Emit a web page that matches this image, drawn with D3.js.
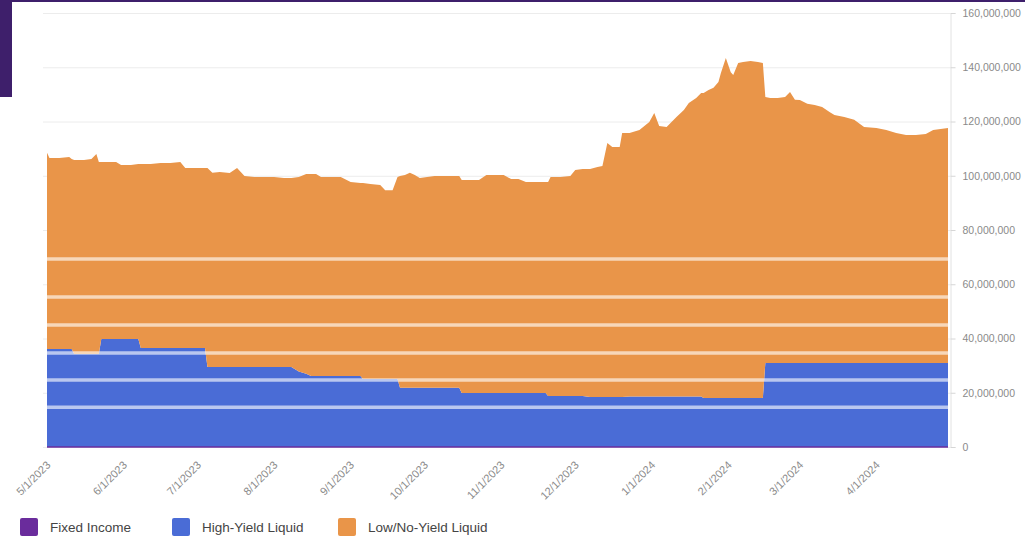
<!DOCTYPE html>
<html>
<head>
<meta charset="utf-8">
<script src="https://cdn.jsdelivr.net/npm/d3@7"></script>
<style>
  html, body { margin: 0; padding: 0; background: #fff; }
  svg { display: block; font-family: Arial, "Liberation Sans", sans-serif; }
</style>
</head>
<body>
<svg id="chart" width="1025" height="540"></svg>
<script>
// Daily observation dates (irregular sampling)
const dates = [
  "2023-05-01","2023-05-02","2023-05-06","2023-05-10","2023-05-11","2023-05-12","2023-05-16","2023-05-19","2023-05-21","2023-05-22",
  "2023-05-23","2023-05-27","2023-05-29","2023-05-31","2023-06-04","2023-06-07","2023-06-08","2023-06-12","2023-06-16","2023-06-20",
  "2023-06-24","2023-06-26","2023-06-30","2023-07-04","2023-07-05","2023-07-07","2023-07-10","2023-07-14","2023-07-17","2023-07-20",
  "2023-07-24","2023-07-29","2023-08-01","2023-08-05","2023-08-08","2023-08-11","2023-08-14","2023-08-16","2023-08-18","2023-08-20",
  "2023-08-24","2023-08-28","2023-09-01","2023-09-05","2023-09-06","2023-09-09","2023-09-13","2023-09-15","2023-09-18","2023-09-20",
  "2023-09-21","2023-09-23","2023-09-25","2023-09-27","2023-09-29","2023-10-02","2023-10-05","2023-10-09","2023-10-13","2023-10-15",
  "2023-10-16","2023-10-20","2023-10-23","2023-10-26","2023-10-30","2023-11-02","2023-11-05","2023-11-08","2023-11-11","2023-11-15",
  "2023-11-19","2023-11-20","2023-11-21","2023-11-25","2023-11-29","2023-12-01","2023-12-04","2023-12-07","2023-12-10","2023-12-12",
  "2023-12-14","2023-12-16","2023-12-19","2023-12-20","2023-12-23","2023-12-27","2023-12-31","2024-01-02","2024-01-04","2024-01-07",
  "2024-01-11","2024-01-14","2024-01-16","2024-01-19","2024-01-21","2024-01-22","2024-01-24","2024-01-26","2024-01-28","2024-01-29",
  "2024-01-31","2024-02-02","2024-02-03","2024-02-05","2024-02-07","2024-02-10","2024-02-13","2024-02-15","2024-02-16","2024-02-18",
  "2024-02-21","2024-02-24","2024-02-26","2024-02-28","2024-03-01","2024-03-04","2024-03-07","2024-03-10","2024-03-13","2024-03-15",
  "2024-03-19","2024-03-23","2024-03-27","2024-04-01","2024-04-05","2024-04-09","2024-04-13","2024-04-17","2024-04-21","2024-04-24",
  "2024-04-27","2024-04-30"
];

// Balances in millions of dollars
const fixedIncome = [
  0,0,0,0,0,0,0,0,0,0, 0,0,0,0,0,0,0,0,0,0, 0,0,0,0,0,0,0,0,0,0,
  0,0,0,0,0,0,0,0,0,0, 0,0,0,0,0,0,0,0,0,0, 0,0,0,0,0,0,0,0,0,0,
  0,0,0,0,0,0,0,0,0,0, 0,0,0,0,0,0,0,0,0,0, 0,0,0,0,0,0,0,0,0,0,
  0,0,0,0,0,0,0,0,0,0, 0,0,0,0,0,0,0,0,0,0, 0,0,0,0,0,0,0,0,0,0,
  0,0,0,0,0,0,0,0,0,0, 0,0
];

const highYieldLiquid = [
  36.1,36.1,36.1,36.1,36.1,34.3,34.3,34.3,34.3,34.3,
  39.8,39.8,39.8,39.8,39.8,39.8,36.5,36.5,36.5,36.5,
  36.5,36.5,36.5,36.5,29.5,29.5,29.5,29.5,29.5,29.5,
  29.5,29.5,29.5,29.5,29.5,27.8,27.0,26.2,26.2,26.2,
  26.2,26.2,26.2,26.2,25.1,25.1,25.1,25.1,25.1,25.1,
  21.8,21.8,21.8,21.8,21.8,21.8,21.8,21.8,21.8,21.8,
  19.9,19.9,19.9,19.9,19.9,19.9,19.9,19.9,19.9,19.9,
  19.9,18.8,18.8,18.8,18.8,18.8,18.8,18.4,18.4,18.4,
  18.4,18.4,18.4,18.4,18.6,18.6,18.6,18.6,18.6,18.6,
  18.6,18.6,18.6,18.6,18.6,18.1,18.1,18.1,18.1,18.1,
  18.1,18.1,18.1,18.1,18.1,18.1,18.1,18.1,31.0,31.0,
  31.0,31.0,31.0,31.0,31.0,31.0,31.0,31.0,31.0,31.0,
  31.0,31.0,31.0,31.0,31.0,31.0,31.0,31.0,31.0,31.0,
  31.0,31.0
];

const lowNoYieldLiquid = [
  72.4,70.4,70.4,70.8,70.1,71.5,71.5,71.9,73.7,70.8,
  65.3,65.3,65.3,64.2,64.2,64.5,67.8,67.8,68.2,68.2,
  68.6,66.4,66.4,66.4,73.4,71.6,71.9,71.5,73.4,70.4,
  70.0,70.0,70.0,69.7,69.7,71.7,73.6,74.4,74.4,73.3,
  73.3,73.3,71.5,71.1,72.2,71.9,71.5,69.6,69.6,74.4,
  78.1,78.5,79.3,78.5,77.4,77.7,78.1,78.1,78.1,78.1,
  78.5,78.5,78.5,80.4,80.4,80.4,78.9,78.9,77.8,77.8,
  77.8,78.9,80.7,80.7,81.1,83.3,83.7,84.1,84.8,85.2,
  93.7,92.2,92.2,97.4,97.2,98.3,101.2,104.5,99.7,99.4,
  103.1,105.6,108.2,110.1,111.9,112.4,113.5,114.3,116.5,119.8,
  125.3,120.1,119.0,123.5,123.8,124.2,123.8,123.5,98.0,97.7,
  97.7,98.0,99.9,97.0,96.9,95.5,95.1,94.3,92.5,91.4,
  90.7,89.6,87.0,86.6,85.9,84.8,84.0,84.0,84.4,85.9,
  86.2,86.6
];

const seriesNames = ["Fixed Income", "High-Yield Liquid", "Low/No-Yield Liquid"];
const seriesKeys = ["fixed", "high", "low"];
const seriesColors = ["#6a2c9c", "#4a6cd6", "#e99549"];

const xTickLabels = ["5/1/2023","6/1/2023","7/1/2023","8/1/2023","9/1/2023","10/1/2023",
                     "11/1/2023","12/1/2023","1/1/2024","2/1/2024","3/1/2024","4/1/2024"];
const yTickValues = [0, 20e6, 40e6, 60e6, 80e6, 100e6, 120e6, 140e6, 160e6];

// Light reference bands across the stacked areas (millions)
const bandLevels = [69.3, 55.3, 45.0, 34.7, 24.7, 14.7];

const parseDate = d3.timeParse("%Y-%m-%d");
const parseTick = d3.timeParse("%-m/%-d/%Y");

const rows = dates.map((d, i) => ({
  date: parseDate(d),
  fixed: fixedIncome[i] * 1e6,
  high: highYieldLiquid[i] * 1e6,
  low: lowNoYieldLiquid[i] * 1e6
}));

const svg = d3.select("#chart");
const W = 1025, H = 540;
const plot = { left: 47, right: 948, top: 13, bottom: 447 };

// Frame accents
svg.append("rect").attr("x", 0).attr("y", 0).attr("width", W).attr("height", 2).attr("fill", "#3e1f6b");
svg.append("rect").attr("x", 0).attr("y", 0).attr("width", 12).attr("height", 97).attr("fill", "#3e1f6b");

const x = d3.scaleTime()
  .domain([rows[0].date, rows[rows.length - 1].date])
  .range([plot.left, plot.right]);

const y = d3.scaleLinear()
  .domain([0, 160e6])
  .range([plot.bottom, plot.top]);

// Gridlines
svg.append("g")
  .selectAll("line")
  .data(yTickValues)
  .join("line")
  .attr("x1", 43).attr("x2", 950)
  .attr("y1", d => y(d) + 0.5).attr("y2", d => y(d) + 0.5)
  .attr("stroke", "#ececec").attr("stroke-width", 1);

// Right value axis
const yAxis = svg.append("g")
  .attr("transform", `translate(950.5,0)`)
  .call(d3.axisRight(y).tickValues(yTickValues).tickFormat(d3.format(",")).tickSize(5).tickPadding(7));
yAxis.select(".domain").attr("stroke", "#e2e2e2");
yAxis.selectAll(".tick line").attr("stroke", "#d6d6d6");
yAxis.selectAll("text").attr("fill", "#8a8a8a").style("font-size", "10.5px");

// Stacked areas
const stack = d3.stack().keys(seriesKeys);
const layers = stack(rows);

const area = d3.area()
  .x(d => x(d.data.date))
  .y0(d => y(d[0]))
  .y1(d => y(d[1]));

svg.append("g")
  .selectAll("path")
  .data(layers)
  .join("path")
  .attr("d", area)
  .attr("fill", (d, i) => seriesColors[i]);

// Top edge of the fixed-income layer (flat along the baseline)
const edge = d3.line()
  .x(d => x(d.data.date))
  .y(d => y(d[1]));
svg.append("path")
  .datum(layers[0])
  .attr("d", edge)
  .attr("fill", "none")
  .attr("stroke", seriesColors[0])
  .attr("stroke-width", 1.5);

// Light bands
svg.append("g")
  .selectAll("line")
  .data(bandLevels)
  .join("line")
  .attr("x1", plot.left).attr("x2", plot.right)
  .attr("y1", d => y(d * 1e6)).attr("y2", d => y(d * 1e6))
  .attr("stroke", "#ffffff").attr("stroke-opacity", 0.62).attr("stroke-width", 3.5);

// Date axis
const xAxis = svg.append("g")
  .attr("transform", `translate(0,${plot.bottom})`)
  .call(d3.axisBottom(x).tickValues(xTickLabels.map(parseTick)).tickFormat(d3.timeFormat("%-m/%-d/%Y")).tickSize(0));
xAxis.select(".domain").remove();
xAxis.selectAll("text")
  .attr("fill", "#8a8a8a")
  .style("font-size", "11px")
  .attr("text-anchor", "end")
  .attr("x", 0).attr("y", 0).attr("dy", "0.35em")
  .attr("transform", "translate(1,16) rotate(-45)");

// Legend
const legend = svg.append("g").attr("transform", "translate(20,518)");
const legendX = [0, 152, 318];
const item = legend.selectAll("g")
  .data(seriesNames)
  .join("g")
  .attr("transform", (d, i) => `translate(${legendX[i]},0)`);
item.append("rect")
  .attr("width", 18).attr("height", 18).attr("rx", 2)
  .attr("fill", (d, i) => seriesColors[i]);
item.append("text")
  .attr("x", 30).attr("y", 14)
  .attr("fill", "#444")
  .style("font-size", "13.5px")
  .text(d => d);
</script>
</body>
</html>
